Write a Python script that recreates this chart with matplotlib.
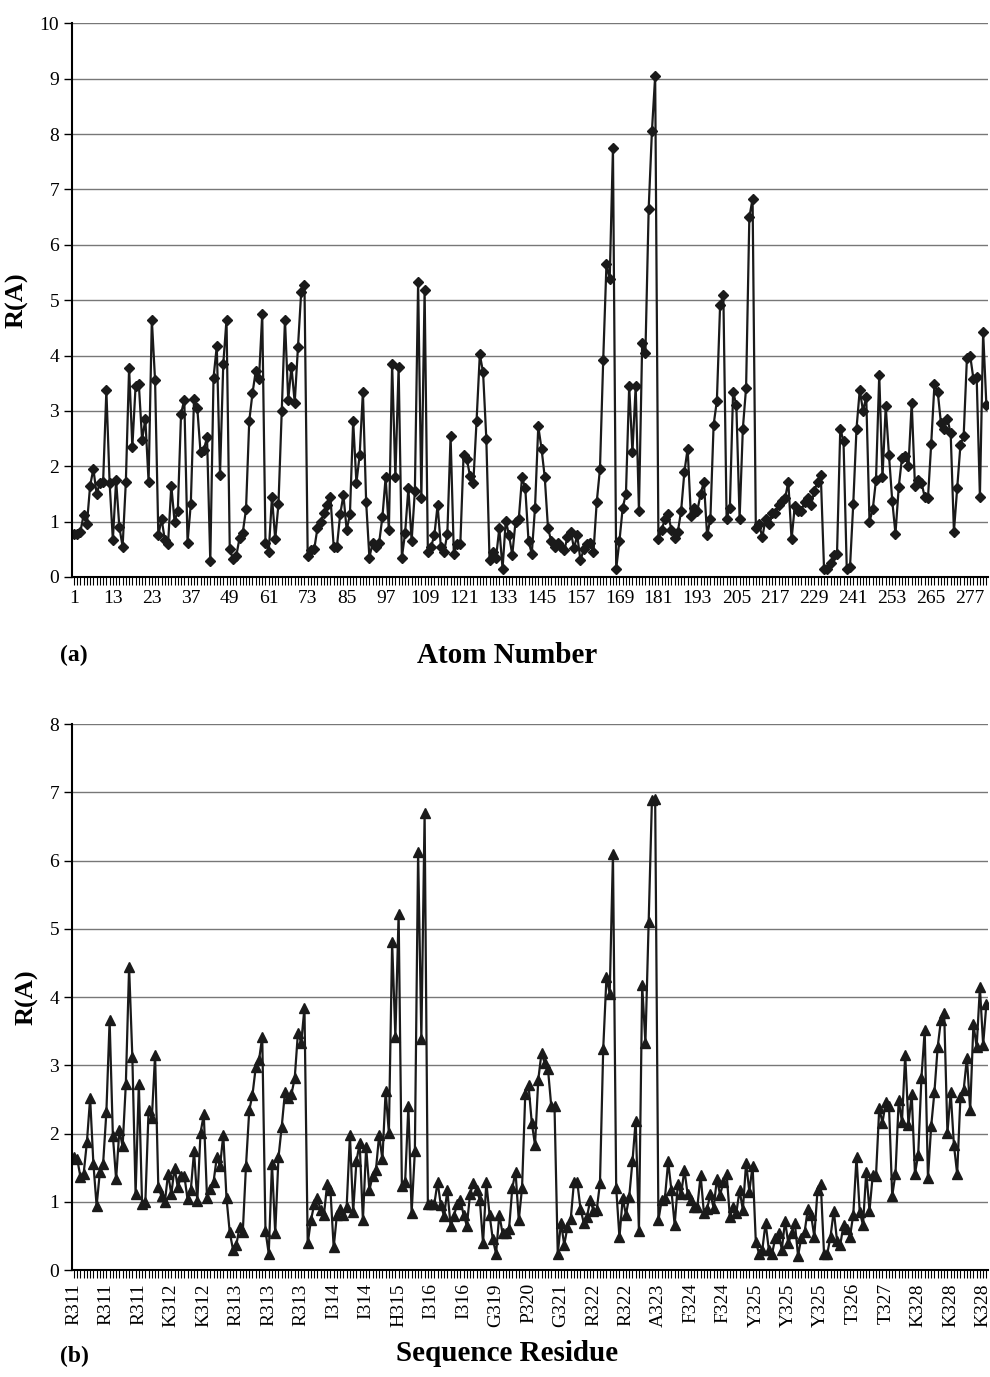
import numpy as np
import matplotlib
matplotlib.use('Agg')
import matplotlib.pyplot as plt

plt.rcParams['font.family'] = ['Liberation Serif', 'DejaVu Serif']

# panel (a): distance per atom
atom_r = [0.78, 0.78, 0.82, 1.12, 0.95, 1.65, 1.95, 1.5, 1.7, 1.72,
          3.37, 1.7, 0.67, 1.75, 0.9, 0.55, 1.72, 3.78, 2.35, 3.45,
          3.48, 2.48, 2.85, 1.72, 4.65, 3.55, 0.75, 1.05, 0.67, 0.6,
          1.65, 1.0, 1.2, 2.95, 3.2, 0.62, 1.32, 3.22, 3.05, 2.25,
          2.3, 2.52, 0.28, 3.6, 4.17, 1.85, 3.85, 4.65, 0.5, 0.32,
          0.38, 0.7, 0.8, 1.22, 2.82, 3.32, 3.72, 3.58, 4.75, 0.62,
          0.45, 1.45, 0.68, 1.32, 3.0, 4.65, 3.2, 3.8, 3.15, 4.15,
          5.15, 5.28, 0.37, 0.48, 0.5, 0.88, 1.0, 1.15, 1.3, 1.45,
          0.55, 0.55, 1.13, 1.48, 0.85, 1.13, 2.82, 1.7, 2.2, 3.35,
          1.35, 0.35, 0.62, 0.55, 0.62, 1.08, 1.8, 0.85, 3.85, 1.8,
          3.8, 0.35, 0.8, 1.6, 0.65, 1.55, 5.32, 1.42, 5.18, 0.45,
          0.55, 0.75, 1.3, 0.55, 0.45, 0.78, 2.55, 0.42, 0.6, 0.6,
          2.2, 2.13, 1.82, 1.7, 2.82, 4.02, 3.7, 2.5, 0.3, 0.45,
          0.35, 0.88, 0.15, 1.02, 0.75, 0.4, 1.0, 1.05, 1.8, 1.6,
          0.65, 0.42, 1.25, 2.72, 2.32, 1.8, 0.88, 0.65, 0.55, 0.62,
          0.55, 0.48, 0.72, 0.82, 0.52, 0.75, 0.3, 0.5, 0.6, 0.62,
          0.45, 1.35, 1.95, 3.92, 5.65, 5.38, 7.75, 0.15, 0.65, 1.25,
          1.5, 3.45, 2.25, 3.45, 1.2, 4.22, 4.05, 6.65, 8.05, 9.05,
          0.68, 0.85, 1.05, 1.13, 0.85, 0.7, 0.82, 1.2, 1.9, 2.32,
          1.1, 1.25, 1.2, 1.5, 1.72, 0.75, 1.05, 2.75, 3.18, 4.92,
          5.1, 1.05, 1.25, 3.35, 3.1, 1.05, 2.68, 3.42, 6.5, 6.83,
          0.88, 0.95, 0.72, 1.05, 0.95, 1.15, 1.15, 1.3, 1.38, 1.42,
          1.72, 0.68, 1.28, 1.2, 1.2, 1.35, 1.42, 1.3, 1.55, 1.72,
          1.85, 0.15, 0.15, 0.25, 0.4, 0.42, 2.68, 2.45, 0.15, 0.18,
          1.32, 2.68, 3.38, 3.0, 3.25, 1.0, 1.22, 1.75, 3.65, 1.8,
          3.08, 2.2, 1.38, 0.78, 1.62, 2.15, 2.18, 2.0, 3.15, 1.65,
          1.75, 1.7, 1.45, 1.42, 2.4, 3.48, 3.35, 2.78, 2.68, 2.85,
          2.6, 0.82, 1.6, 2.38, 2.55, 3.95, 4.0, 3.58, 3.62, 1.45,
          4.42, 3.1]
atom_labels = ['1', '13', '23', '37', '49', '61', '73', '85', '97', '109',
               '121', '133', '145', '157', '169', '181', '193', '205', '217',
               '229', '241', '253', '265', '277']

# panel (b): distance per residue position
res_r = [1.65, 1.63, 1.37, 1.41, 1.87, 2.52, 1.56, 0.94, 1.44, 1.56,
         2.31, 3.66, 1.97, 1.33, 2.05, 1.81, 2.73, 4.44, 3.12, 1.11,
         2.73, 0.97, 0.99, 2.34, 2.22, 3.15, 1.21, 1.08, 0.99, 1.41,
         1.11, 1.5, 1.21, 1.38, 1.38, 1.04, 1.17, 1.74, 1.01, 2.01,
         2.28, 1.05, 1.19, 1.29, 1.65, 1.52, 1.98, 1.05, 0.55, 0.3,
         0.36, 0.63, 0.55, 1.53, 2.34, 2.57, 2.97, 3.07, 3.42, 0.57,
         0.24, 1.56, 0.54, 1.65, 2.1, 2.61, 2.52, 2.58, 2.81, 3.48,
         3.33, 3.84, 0.39, 0.73, 0.96, 1.05, 0.88, 0.81, 1.26, 1.17,
         0.33, 0.81, 0.89, 0.81, 0.93, 1.98, 0.85, 1.59, 1.86, 0.73,
         1.8, 1.17, 1.38, 1.46, 1.98, 1.62, 2.62, 2.01, 4.8, 3.42,
         5.22, 1.23, 1.29, 2.4, 0.84, 1.74, 6.12, 3.39, 6.69, 0.96,
         0.96, 0.97, 1.29, 0.95, 0.79, 1.17, 0.65, 0.79, 0.96, 1.03,
         0.81, 0.65, 1.11, 1.27, 1.17, 1.03, 0.39, 1.29, 0.81, 0.45,
         0.24, 0.81, 0.54, 0.54, 0.6, 1.2, 1.44, 0.73, 1.2, 2.58,
         2.71, 2.16, 1.83, 2.79, 3.18, 3.03, 2.94, 2.4, 2.4, 0.24,
         0.69, 0.37, 0.63, 0.75, 1.29, 1.29, 0.9, 0.69, 0.78, 1.02,
         0.87, 0.88, 1.27, 3.24, 4.29, 4.05, 6.09, 1.2, 0.48, 1.05,
         0.81, 1.07, 1.59, 2.19, 0.57, 4.17, 3.33, 5.1, 6.88, 6.9,
         0.73, 1.02, 1.05, 1.59, 1.17, 0.66, 1.26, 1.11, 1.47, 1.11,
         1.02, 0.93, 0.93, 1.39, 0.84, 0.9, 1.11, 0.91, 1.33, 1.1,
         1.29, 1.41, 0.78, 0.93, 0.84, 1.17, 0.88, 1.57, 1.15, 1.53,
         0.41, 0.24, 0.3, 0.69, 0.3, 0.24, 0.47, 0.54, 0.3, 0.72,
         0.39, 0.54, 0.69, 0.21, 0.47, 0.55, 0.89, 0.81, 0.49, 1.17,
         1.26, 0.24, 0.24, 0.49, 0.87, 0.43, 0.37, 0.66, 0.6, 0.49,
         0.81, 1.65, 0.85, 0.66, 1.44, 0.87, 1.39, 1.38, 2.37, 2.16,
         2.46, 2.41, 1.09, 1.41, 2.49, 2.17, 3.15, 2.13, 2.58, 1.41,
         1.69, 2.82, 3.51, 1.35, 2.11, 2.61, 3.27, 3.66, 3.76, 2.01,
         2.61, 1.83, 1.41, 2.53, 2.64, 3.11, 2.34, 3.6, 3.27, 4.14,
         3.3, 3.9]
res_labels = ['R311', 'R311', 'R311', 'K312', 'K312', 'R313', 'R313', 'R313',
              'I314', 'I314', 'H315', 'I316', 'I316', 'G319', 'P320', 'G321',
              'R322', 'R322', 'A323', 'F324', 'F324', 'Y325', 'Y325', 'Y325',
              'T326', 'T327', 'K328', 'K328', 'K328']

fig = plt.figure(figsize=(9.9, 13.77), dpi=100)
ax1 = fig.add_axes([0.073, 0.5810, 0.925, 0.4020])
ax2 = fig.add_axes([0.073, 0.0777, 0.925, 0.3965])


def style(ax, n, ymax, step, labels, rot):
    ax.set_xlim(0.5, n + 0.5)
    ax.set_ylim(0, ymax)
    ax.set_yticks(range(0, ymax + 1))
    ax.yaxis.grid(True, color='#777777', lw=1.0)
    ax.set_axisbelow(True)
    for s in ['top', 'right']:
        ax.spines[s].set_visible(False)
    ax.spines['left'].set_linewidth(1.5)
    ax.spines['bottom'].set_linewidth(1.5)
    ax.set_xticks(np.arange(1, n + 1), minor=True)
    ax.set_xticks(np.arange(1, n + 1, step)[:len(labels)])
    ax.set_xticklabels(labels, rotation=rot, fontsize=14)
    ax.tick_params(axis='x', which='both', length=6, width=0.8, direction='out')
    ax.tick_params(axis='y', length=6, width=1, labelsize=14)
    ax.set_ylabel('R(A)', fontsize=19, fontweight='bold', labelpad=8)


x1 = np.arange(1, len(atom_r) + 1)
ax1.plot(x1, atom_r, color='#1a1a1a', lw=1.6, marker='D', ms=5.5,
         mfc='#1a1a1a', mec='#1a1a1a')
style(ax1, len(atom_r), 10, 12, atom_labels, 0)

x2 = np.arange(1, len(res_r) + 1)
ax2.plot(x2, res_r, color='#1a1a1a', lw=1.6, marker='^', ms=7.5,
         mfc='#1a1a1a', mec='#1a1a1a')
style(ax2, len(res_r), 8, 10, res_labels, 90)

fig.text(0.061, 0.524, '(a)', fontsize=17, fontweight='bold', va='center')
fig.text(0.512, 0.524, 'Atom Number', fontsize=21, fontweight='bold',
         ha='center', va='center')
fig.text(0.061, 0.0075, '(b)', fontsize=17, fontweight='bold', va='bottom')
fig.text(0.512, 0.0075, 'Sequence Residue', fontsize=21, fontweight='bold',
         ha='center', va='bottom')

fig.savefig('out.png', dpi=100)
